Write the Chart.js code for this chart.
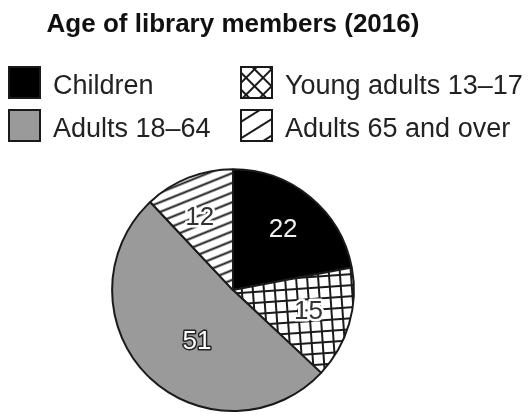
<!DOCTYPE html>
<html>
<head>
<meta charset="utf-8">
<script src="https://cdn.jsdelivr.net/npm/chart.js@4.4.0/dist/chart.umd.min.js"></script>
<style>
  body { margin: 0; background: #fff; }
  canvas { display: block; }
</style>
</head>
<body>
<canvas id="chart" width="530" height="415"></canvas>
<script>
const chartTitle = 'Age of library members (2016)'
const categories = ['Children', 'Young adults 13–17', 'Adults 18–64', 'Adults 65 and over']
const members = [22, 15, 51, 12]

const FONT = "'Liberation Sans', Arial, Helvetica, sans-serif"
const INK = '#1a1a1a'

// small repeating tiles used as fills
const makePattern = (w, h, draw, angle) => {
  const tile = document.createElement('canvas')
  tile.width = w
  tile.height = h
  const c = tile.getContext('2d')
  c.fillStyle = '#fff'
  c.fillRect(0, 0, w, h)
  c.strokeStyle = INK
  c.lineWidth = 2
  draw(c, w, h)
  const p = document.createElement('canvas').getContext('2d').createPattern(tile, 'repeat')
  if (angle) p.setTransform(new DOMMatrix().rotate(angle))
  return p
}

const gridLines = (c, w, h) => {
  c.beginPath()
  c.moveTo(1, 0); c.lineTo(1, h)
  c.moveTo(0, 1); c.lineTo(w, 1)
  c.stroke()
}
const stripeLine = (c, w, h) => {
  c.beginPath()
  c.moveTo(0, h / 2); c.lineTo(w, h / 2)
  c.stroke()
}

const fills = [
  '#000',
  makePattern(11, 11, gridLines, -4),
  '#9a9a9a',
  makePattern(10, 9, stripeLine, -22)
]
const swatches = [
  '#000',
  makePattern(12, 12, gridLines, 45),
  '#9a9a9a',
  makePattern(10, 14, stripeLine, -32)
]

// number labels inside the slices
const labelStyle = {
  dist: [0.65, 0.65, 0.52, 0.66],
  shift: [0, 0, -10, -3],
  fill: ['#f0f0f0', '#333', '#fff', '#333'],
  stroke: [null, '#fff', '#222', '#fff'],
  strokeWidth: [0, 5, 3, 5]
}

const sliceLabels = {
  id: 'sliceLabels',
  afterDatasetsDraw(chart) {
    const ctx = chart.ctx
    const values = chart.data.datasets[0].data
    ctx.save()
    ctx.font = '26px ' + FONT
    ctx.textAlign = 'center'
    ctx.textBaseline = 'middle'
    ctx.lineJoin = 'round'
    chart.getDatasetMeta(0).data.forEach((arc, i) => {
      const { x, y, startAngle, endAngle, outerRadius } =
        arc.getProps(['x', 'y', 'startAngle', 'endAngle', 'outerRadius'], true)
      const a = (startAngle + endAngle) / 2 + labelStyle.shift[i] * Math.PI / 180
      const r = outerRadius * labelStyle.dist[i]
      const lx = x + Math.cos(a) * r
      const ly = y + Math.sin(a) * r
      const text = String(values[i])
      if (labelStyle.stroke[i]) {
        ctx.strokeStyle = labelStyle.stroke[i]
        ctx.lineWidth = labelStyle.strokeWidth[i]
        ctx.strokeText(text, lx, ly)
      }
      ctx.fillStyle = labelStyle.fill[i]
      ctx.fillText(text, lx, ly)
    })
    ctx.restore()
  }
}

// 2 x 2 legend above the pie
const legendGrid = {
  id: 'legendGrid',
  afterDraw(chart) {
    const ctx = chart.ctx
    const cols = [8, 240]
    const rows = [66, 109]
    const box = 33
    ctx.save()
    ctx.font = '27px ' + FONT
    ctx.textBaseline = 'alphabetic'
    chart.data.labels.forEach((label, i) => {
      const bx = cols[i % 2]
      const by = rows[Math.floor(i / 2)]
      ctx.fillStyle = swatches[i]
      ctx.fillRect(bx, by, box, box)
      ctx.strokeStyle = INK
      ctx.lineWidth = 2
      ctx.strokeRect(bx + 1, by + 1, box - 2, box - 2)
      ctx.fillStyle = '#222'
      ctx.fillText(label, bx + 45, by + 28)
    })
    ctx.restore()
  }
}

const context = document.getElementById('chart')
const pieChart = new Chart(context, {
  type: 'pie',
  data: {
    labels: categories,
    datasets: [
      {
        data: members,
        backgroundColor: fills,
        borderColor: INK,
        borderWidth: 2,
        hoverOffset: 0
      }
    ]
  },
  options: {
    responsive: false,
    animation: false,
    layout: { padding: { left: 0, right: 64, top: 0, bottom: 3 } },
    plugins: {
      title: {
        display: true,
        text: chartTitle,
        color: '#111',
        font: { family: FONT, size: 26, weight: 'bold' },
        padding: { top: 9, bottom: 128 }
      },
      legend: { display: false },
      tooltip: { enabled: false }
    }
  },
  plugins: [sliceLabels, legendGrid]
})
</script>
</body>
</html>
